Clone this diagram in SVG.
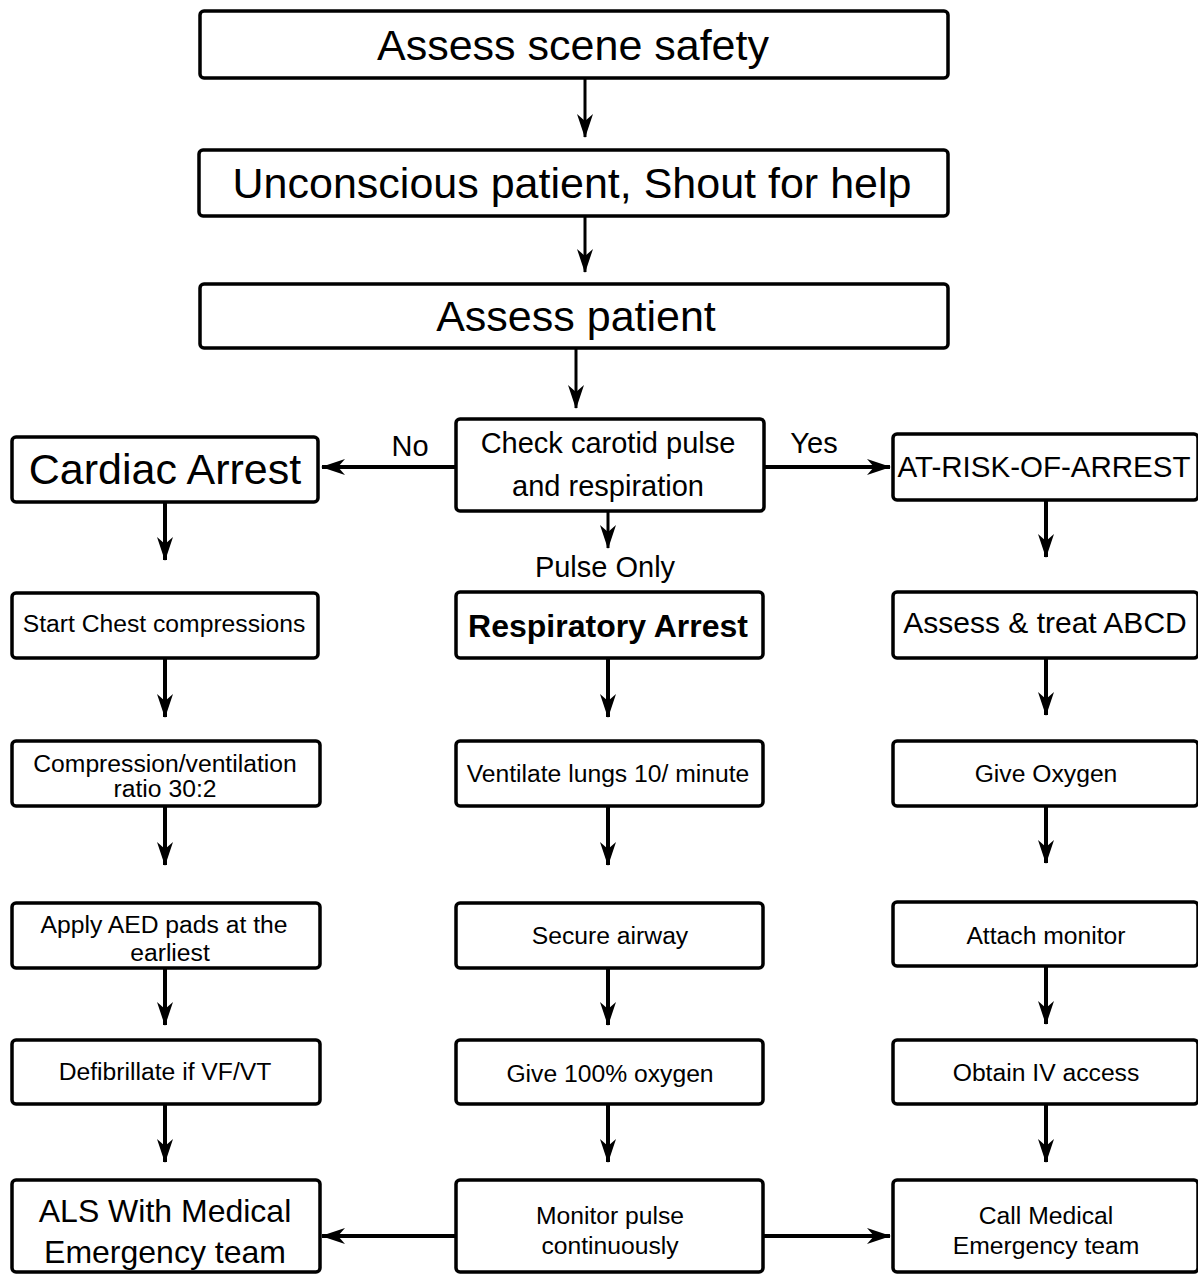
<svg xmlns="http://www.w3.org/2000/svg" width="1198" height="1276" viewBox="0 0 1198 1276">
<defs>
<style>
.box{fill:#fff;stroke:#000;stroke-width:3.5}
.t{font-family:"Liberation Sans",Arial,sans-serif;fill:#000;text-anchor:middle}
.s{font-size:24.7px}
.c{stroke:#000;stroke-width:4;fill:none}
.c3{stroke:#000;stroke-width:3;fill:none}
</style>
<marker id="ah" markerUnits="userSpaceOnUse" viewBox="0 0 24 18" refX="23" refY="9" markerWidth="24" markerHeight="18" orient="auto">
<path d="M0,1 L24,9 L0,17 L7,9 Z" fill="#000"/>
</marker>
</defs>
<rect width="1198" height="1276" fill="#fff"/>
<g id="connectors">
<line class="c3" x1="585" y1="78" x2="585" y2="137" marker-end="url(#ah)"/>
<line class="c3" x1="585" y1="216" x2="585" y2="272" marker-end="url(#ah)"/>
<line class="c3" x1="576" y1="348" x2="576" y2="408" marker-end="url(#ah)"/>
<line class="c" x1="456" y1="467" x2="322" y2="467" marker-end="url(#ah)"/>
<line class="c" x1="764" y1="467" x2="890" y2="467" marker-end="url(#ah)"/>
<line class="c3" x1="608" y1="511" x2="608" y2="548" marker-end="url(#ah)"/>
<line class="c" x1="165" y1="502" x2="165" y2="560" marker-end="url(#ah)"/>
<line class="c" x1="1046" y1="500" x2="1046" y2="557" marker-end="url(#ah)"/>
<line class="c" x1="165" y1="658" x2="165" y2="717" marker-end="url(#ah)"/>
<line class="c" x1="608" y1="658" x2="608" y2="717" marker-end="url(#ah)"/>
<line class="c" x1="1046" y1="658" x2="1046" y2="715" marker-end="url(#ah)"/>
<line class="c" x1="165" y1="806" x2="165" y2="865" marker-end="url(#ah)"/>
<line class="c" x1="608" y1="806" x2="608" y2="865" marker-end="url(#ah)"/>
<line class="c" x1="1046" y1="806" x2="1046" y2="863" marker-end="url(#ah)"/>
<line class="c" x1="165" y1="968" x2="165" y2="1025" marker-end="url(#ah)"/>
<line class="c" x1="608" y1="968" x2="608" y2="1025" marker-end="url(#ah)"/>
<line class="c" x1="1046" y1="966" x2="1046" y2="1024" marker-end="url(#ah)"/>
<line class="c" x1="165" y1="1104" x2="165" y2="1162" marker-end="url(#ah)"/>
<line class="c" x1="608" y1="1104" x2="608" y2="1162" marker-end="url(#ah)"/>
<line class="c" x1="1046" y1="1104" x2="1046" y2="1162" marker-end="url(#ah)"/>
<line class="c" x1="456" y1="1236" x2="322" y2="1236" marker-end="url(#ah)"/>
<line class="c" x1="764" y1="1236" x2="890" y2="1236" marker-end="url(#ah)"/>
<text class="t" x="410" y="456" font-size="29">No</text>
<text class="t" x="814" y="453" font-size="29">Yes</text>
<text class="t" x="605" y="577" font-size="29">Pulse  Only</text>
</g>
<g id="n1"><rect class="box" x="200" y="11" width="748" height="67" rx="4"/><text class="t" x="573" y="60" font-size="43">Assess scene safety</text></g>
<g id="n2"><rect class="box" x="199" y="150" width="749" height="66" rx="4"/><text class="t" x="572" y="198" font-size="43">Unconscious patient, Shout for help</text></g>
<g id="n3"><rect class="box" x="200" y="284" width="748" height="64" rx="4"/><text class="t" x="576" y="331" font-size="43">Assess patient</text></g>
<g id="n4"><rect class="box" x="456" y="419" width="308" height="92" rx="4"/><text class="t" x="608" y="453" font-size="29">Check carotid pulse</text><text class="t" x="608" y="496" font-size="29">and respiration</text></g>
<g id="n5"><rect class="box" x="12" y="437" width="306" height="65" rx="4"/><text class="t" x="165" y="484" font-size="43">Cardiac Arrest</text></g>
<g id="n6"><rect class="box" x="893" y="434" width="305" height="66" rx="4"/><text class="t" x="1044" y="477" font-size="29.5">AT-RISK-OF-ARREST</text></g>
<g id="n7"><rect class="box" x="12" y="593" width="306" height="65" rx="4"/><text class="t s" x="164" y="632">Start Chest compressions</text></g>
<g id="n8"><rect class="box" x="456" y="592" width="307" height="66" rx="4"/><text class="t" x="608" y="637" font-size="32" font-weight="bold">Respiratory Arrest</text></g>
<g id="n9"><rect class="box" x="893" y="592" width="305" height="66" rx="4"/><text class="t" x="1045" y="633" font-size="30">Assess &amp; treat ABCD</text></g>
<g id="n10"><rect class="box" x="12" y="741" width="308" height="65" rx="4"/><text class="t s" x="165" y="772">Compression/ventilation</text><text class="t s" x="165" y="797">ratio 30:2</text></g>
<g id="n11"><rect class="box" x="456" y="741" width="307" height="65" rx="4"/><text class="t s" x="608" y="782">Ventilate lungs 10/ minute</text></g>
<g id="n12"><rect class="box" x="893" y="741" width="305" height="65" rx="4"/><text class="t s" x="1046" y="782">Give Oxygen</text></g>
<g id="n13"><rect class="box" x="12" y="903" width="308" height="65" rx="4"/><text class="t s" x="164" y="933">Apply AED pads at the</text><text class="t s" x="170" y="961">earliest</text></g>
<g id="n14"><rect class="box" x="456" y="903" width="307" height="65" rx="4"/><text class="t s" x="610" y="944">Secure airway</text></g>
<g id="n15"><rect class="box" x="893" y="902" width="305" height="64" rx="4"/><text class="t s" x="1046" y="944">Attach monitor</text></g>
<g id="n16"><rect class="box" x="12" y="1040" width="308" height="64" rx="4"/><text class="t s" x="165" y="1080">Defibrillate if VF/VT</text></g>
<g id="n17"><rect class="box" x="456" y="1040" width="307" height="64" rx="4"/><text class="t s" x="610" y="1082">Give 100% oxygen</text></g>
<g id="n18"><rect class="box" x="893" y="1040" width="305" height="64" rx="4"/><text class="t s" x="1046" y="1081">Obtain IV access</text></g>
<g id="n19"><rect class="box" x="12" y="1180" width="308" height="92" rx="4"/><text class="t" x="165" y="1222" font-size="32">ALS With Medical</text><text class="t" x="165" y="1263" font-size="32">Emergency team</text></g>
<g id="n20"><rect class="box" x="456" y="1180" width="307" height="92" rx="4"/><text class="t s" x="610" y="1224">Monitor pulse</text><text class="t s" x="610" y="1254">continuously</text></g>
<g id="n21"><rect class="box" x="893" y="1180" width="305" height="92" rx="4"/><text class="t s" x="1046" y="1224">Call Medical</text><text class="t s" x="1046" y="1254">Emergency team</text></g>
</svg>
